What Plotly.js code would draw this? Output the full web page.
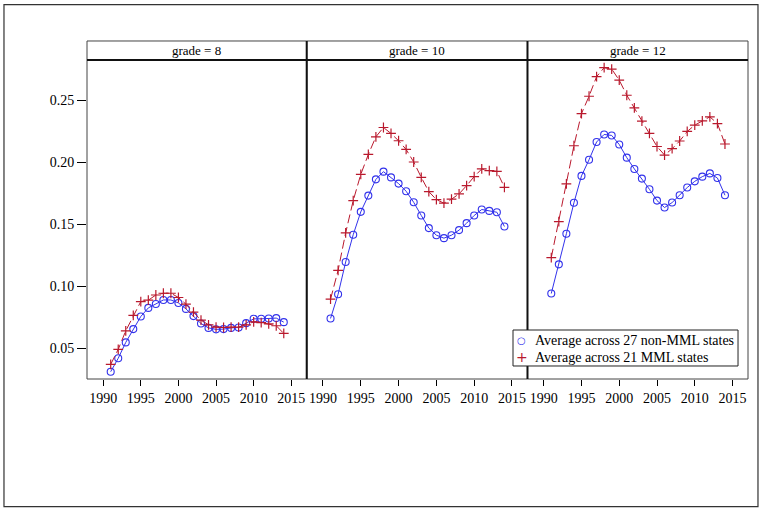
<!DOCTYPE html>
<html>
<head>
<meta charset="utf-8">
<script src="https://cdn.plot.ly/plotly-3.0.1.min.js"></script>
<style>body{margin:0;background:#fff}#chart{width:764px;height:512px}</style>
</head>
<body>
<div id="chart"></div>
<script>
const years = [1991,1992,1993,1994,1995,1996,1997,1998,1999,2000,2001,2002,2003,2004,2005,2006,2007,2008,2009,2010,2011,2012,2013,2014];
const grades = ['grade = 8', 'grade = 10', 'grade = 12'];

// non-MML states (blue circles)
const nonMml8  = [0.0312,0.042,0.0548,0.0655,0.0757,0.0826,0.0858,0.089,0.089,0.0866,0.0818,0.076,0.070,0.0665,0.0653,0.0655,0.0665,0.0668,0.0703,0.0738,0.0738,0.0741,0.0744,0.0711];
const nonMml10 = [0.0741,0.0936,0.1196,0.1416,0.160,0.1731,0.1862,0.1924,0.1878,0.1828,0.1766,0.1677,0.1571,0.1469,0.1412,0.1388,0.1412,0.1453,0.1509,0.1571,0.1619,0.1608,0.1597,0.1482];
const nonMml12 = [0.0942,0.1177,0.1424,0.1673,0.189,0.202,0.2163,0.2224,0.2216,0.2143,0.2037,0.1946,0.1868,0.1782,0.1691,0.1635,0.1675,0.1734,0.1796,0.1846,0.1884,0.191,0.1873,0.1734];

// MML states (red plus)
const mml8  = [0.0371,0.0492,0.0641,0.0765,0.0877,0.0888,0.093,0.0944,0.0944,0.091,0.0856,0.0792,0.0727,0.069,0.0671,0.0668,0.0671,0.0671,0.069,0.0714,0.0708,0.0698,0.0682,0.062];
const mml10 = [0.0896,0.1129,0.1431,0.1691,0.1902,0.2063,0.2205,0.228,0.2232,0.2173,0.2103,0.2002,0.1878,0.1763,0.1699,0.167,0.1702,0.1745,0.1812,0.1884,0.1946,0.1932,0.1927,0.1798];
const mml12 = [0.1231,0.1522,0.1825,0.2133,0.2392,0.2532,0.269,0.2762,0.2751,0.2661,0.254,0.2438,0.2331,0.2232,0.2127,0.2058,0.2109,0.2171,0.2248,0.2299,0.2334,0.2366,0.2312,0.2147];

const seriesNames = ['Average across 27 non-MML states', 'Average across 21 MML states'];
const xTicks = [1990,1995,2000,2005,2010,2015];
const yTicks = [0.05,0.10,0.15,0.20,0.25];

const blue = 'rgb(50,50,235)';
const red = 'rgb(185,25,45)';
const font = "'Liberation Serif', 'Times New Roman', serif";

const nonMml = [nonMml8, nonMml10, nonMml12];
const mml = [mml8, mml10, mml12];
const suffix = ['', '2', '3'];

const circleMarker = {symbol: 'circle-open', size: 7, color: blue, line: {width: 1.1}};
const plusMarker = {symbol: 'cross-thin-open', size: 7, color: red, line: {width: 1.2, color: red}};

let traces = [];
for (let i = 0; i < 3; i++) {
    traces.push({
        x: years, y: nonMml[i], xaxis: 'x' + suffix[i], yaxis: 'y',
        type: 'scatter', mode: 'lines+markers', name: seriesNames[0], showlegend: false,
        line: {color: blue, width: 1},
        marker: circleMarker
    });
    traces.push({
        x: years, y: mml[i], xaxis: 'x' + suffix[i], yaxis: 'y',
        type: 'scatter', mode: 'lines+markers', name: seriesNames[1], showlegend: false,
        line: {color: red, width: 1, dash: '9px,4px'},
        marker: plusMarker
    });
}

const doms = [[0, 0.3324], [0.3324, 0.6664], [0.6664, 1]];
const xRange = [1987.85, 2017.05];

function xAxis(i) {
    return {
        domain: doms[i], range: xRange, anchor: 'y',
        tickvals: xTicks, ticks: 'outside', ticklen: 6, tickcolor: '#000', tickwidth: 1,
        showgrid: false, zeroline: false, showline: false,
        tickfont: {family: font, size: 14, color: '#000'}
    };
}

let shapes = [
    // outer frame
    {type: 'rect', xref: 'paper', yref: 'paper', x0: -0.1256, x1: 1.0151, y0: -0.4003, y1: 1.1734,
     line: {color: '#333', width: 1.2}}
];
let annotations = [];
for (let i = 0; i < 3; i++) {
    shapes.push({type: 'rect', xref: 'paper', yref: 'paper', x0: doms[i][0], x1: doms[i][1], y0: 0, y1: 1,
                 line: {color: '#444', width: 1}});
    shapes.push({type: 'rect', xref: 'paper', yref: 'paper', x0: doms[i][0], x1: doms[i][1], y0: 1, y1: 1.0596,
                 line: {color: '#444', width: 1}, fillcolor: '#fff'});
    annotations.push({xref: 'paper', yref: 'paper', x: (doms[i][0] + doms[i][1]) / 2, y: 1.0298,
                      xanchor: 'center', yanchor: 'middle',
                      text: grades[i], showarrow: false, font: {family: font, size: 13, color: '#000'}});
}
// heavy strip underline and panel dividers
shapes.push({type: 'line', xref: 'paper', yref: 'paper', x0: 0, x1: 1, y0: 1, y1: 1, line: {color: '#111', width: 2}});
shapes.push({type: 'line', xref: 'paper', yref: 'paper', x0: doms[1][0], x1: doms[1][0], y0: 0, y1: 1.0596, line: {color: '#111', width: 2}});
shapes.push({type: 'line', xref: 'paper', yref: 'paper', x0: doms[2][0], x1: doms[2][0], y0: 0, y1: 1.0596, line: {color: '#111', width: 2}});

// legend box (drawn by hand so it matches the compact SAS-style key)
shapes.push({type: 'rect', xref: 'paper', yref: 'paper', x0: 0.6445, x1: 0.9849, y0: 0.0408, y1: 0.1536,
             line: {color: '#222', width: 1}, fillcolor: '#fff'});
const legendRows = [0.1201, 0.068];
const legendSymbols = ['○', '+'];
const legendColors = [blue, red];
for (let k = 0; k < 2; k++) {
    annotations.push({xref: 'paper', yref: 'paper', x: 0.6576, y: legendRows[k], xanchor: 'center', yanchor: 'middle',
                      text: legendSymbols[k], showarrow: false,
                      font: {family: 'DejaVu Sans', size: k === 0 ? 10 : 14, color: legendColors[k]}});
    annotations.push({xref: 'paper', yref: 'paper', x: 0.6747, y: legendRows[k], xanchor: 'left', yanchor: 'middle',
                      text: seriesNames[k], showarrow: false,
                      font: {family: font, size: 14, color: '#000'}});
}

const layout = {
    width: 764, height: 512,
    margin: {l: 87, r: 16, t: 60, b: 133},
    paper_bgcolor: '#fff', plot_bgcolor: '#fff',
    font: {family: font, color: '#000'},
    xaxis: xAxis(0), xaxis2: xAxis(1), xaxis3: xAxis(2),
    yaxis: {
        range: [0.0253, 0.2824], tickvals: yTicks, tickformat: '.2f',
        ticks: 'outside', ticklen: 9, tickcolor: '#000', tickwidth: 1,
        showgrid: false, zeroline: false, showline: false,
        tickfont: {family: font, size: 14, color: '#000'}
    },
    showlegend: false,
    shapes: shapes,
    annotations: annotations
};

Plotly.newPlot('chart', traces, layout, {displayModeBar: false, staticPlot: true});
</script>
</body>
</html>
